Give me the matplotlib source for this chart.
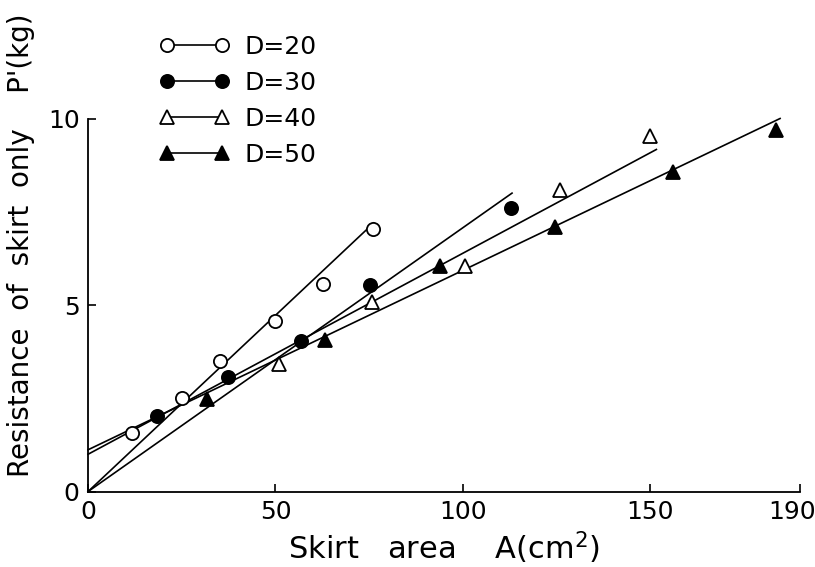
import matplotlib
matplotlib.use("Agg")
import matplotlib.pyplot as plt
import matplotlib.transforms as mtransforms
import numpy as np

plt.rcParams['font.family'] = ['DejaVu Sans']

# measured points, skirt area A (cm2) vs resistance P' (kg)
d20_x = [11.8, 25.2, 35.3, 50.0, 62.8, 75.9]
d20_y = [1.56, 2.50, 3.50, 4.57, 5.56, 7.04]
d30_x = [18.4, 37.4, 56.7, 75.1, 112.8]
d30_y = [2.03, 3.06, 4.03, 5.55, 7.59]
d40_x = [50.9, 75.7, 100.6, 125.9, 149.9]
d40_y = [3.41, 5.07, 6.05, 8.08, 9.54]
d50_x = [31.7, 63.2, 93.9, 124.6, 156.1, 183.4]
d50_y = [2.48, 4.06, 6.05, 7.08, 8.56, 9.69]

# fitted lines: (intercept, end x, end y)
fit_d20 = (0.0, 76.2, 7.20)
fit_d30 = (0.0, 113.1, 8.00)
fit_d40 = (1.00, 151.6, 9.17)
fit_d50 = (1.12, 184.6, 10.0)

labels = ['D=20', 'D=30', 'D=40', 'D=50']

fig = plt.figure(figsize=(8.15, 5.67), dpi=100)
ax = fig.add_axes([0.108, 0.133, 0.874, 0.658])

lw = 1.2
ms = 9.5
series = [
    (d20_x, d20_y, fit_d20, 'o', 'white'),
    (d30_x, d30_y, fit_d30, 'o', 'black'),
    (d40_x, d40_y, fit_d40, '^', 'white'),
    (d50_x, d50_y, fit_d50, '^', 'black'),
]
for (xs, ys, fit, mk, fc), lab in zip(series, labels):
    b, xe, ye = fit
    ax.plot([0, xe], [b, ye], color='black', lw=lw, clip_on=False)
    ax.plot(xs, ys, linestyle='none', marker=mk, ms=ms, mfc=fc, mec='black',
            mew=1.3, clip_on=False, zorder=3)

# legend handles: marker - line - marker
handles = []
for (xs, ys, fit, mk, fc), lab in zip(series, labels):
    h, = ax.plot([], [], color='black', lw=lw, marker=mk, ms=ms, mfc=fc,
                 mec='black', mew=1.3)
    handles.append(h)
ax.legend(handles, labels, loc='upper left', bbox_to_anchor=(0.168, 0.978),
          bbox_transform=fig.transFigure, frameon=False, numpoints=2,
          handlelength=2.8, labelspacing=0.48, handletextpad=0.6,
          fontsize=18)

ax.set_xlim(0, 190)
ax.set_ylim(0, 10)
ax.set_xticks([0, 50, 100, 150, 190])
ax.set_yticks([0, 5, 10])
ax.spines['top'].set_visible(False)
ax.spines['right'].set_visible(False)
for s in ['left', 'bottom']:
    ax.spines[s].set_linewidth(1.3)
ax.tick_params(direction='in', length=6, width=1.2, labelsize=18, pad=6)

# last x label sits a bit left of the axis end, as in the original
last = ax.get_xticklabels()[-1]
last.set_transform(last.get_transform() +
                   mtransforms.ScaledTranslation(-8 / 100, 0, fig.dpi_scale_trans))

ax.set_xlabel("Skirt   area    A(cm$^2$)", fontsize=22, labelpad=4)
ax.set_ylabel("Resistance  of  skirt  only    P'(kg)", fontsize=20, labelpad=6)
ax.yaxis.set_label_coords(-0.074, 0.66)

fig.savefig('out.png', dpi=100)
